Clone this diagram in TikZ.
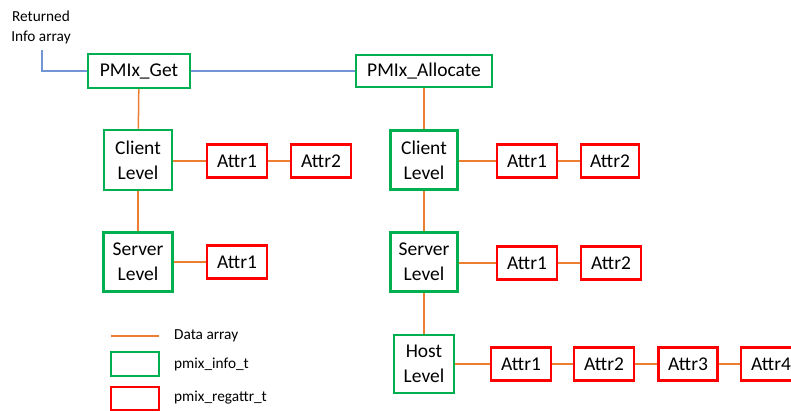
\documentclass[tikz,border=0pt]{standalone}
\usepackage{fontspec}
\setmainfont{Carlito}
\usepackage{tikz}
\usetikzlibrary{positioning}

\begin{document}
\begin{tikzpicture}[x=1pt,y=-1pt]
		\tikzstyle{info} = [draw={rgb,255:red,0;green,176;blue,80}, line width=2.5, inner sep=0, align=center, font=\fontsize{19.5}{25}\selectfont]
		\tikzstyle{regattr} = [draw=red, line width=2.5, inner sep=0, minimum width=60, minimum height=33, font=\fontsize{19.5}{25}\selectfont]
		\tikzstyle{data} = [draw={rgb,255:red,237;green,125;blue,49}, line width=1.5]
		\tikzstyle{ret} = [draw={rgb,255:red,114;green,150;blue,212}, line width=1.2]
		\tikzstyle{label} = [inner sep=0, align=left, font=\fontsize{15.3}{20}\selectfont]
		\useasboundingbox (0,0) rectangle (791,411);
		% top row
		\node [label, align=center] (v1) at (41,27) {Returned\\Info array};
		\node [info, minimum width=102, minimum height=34] (v2) at (139,71) {PMIx\_Get};
		\node [info, minimum width=136, minimum height=32] (v3) at (424,71) {PMIx\_Allocate};
		\coordinate (v4) at (42,50);
		\coordinate (v5) at (42,71);
		\draw [ret] (v4) -- (v5) -- (v2.west);
		\draw [ret] (v2) edge (v3);
		% left tree
		\node [info, minimum width=68, minimum height=60] (v6) at (138,160) {Client\\Level};
		\node [regattr] (v7) at (237,161) {Attr1};
		\node [regattr] (v8) at (321,161) {Attr2};
		\node [info, minimum width=69, minimum height=59] (v9) at (138,262) {Server\\Level};
		\node [regattr] (v10) at (237,262) {Attr1};
		\draw [data] (v2) edge (v6);
		\draw [data] (v6) edge (v9);
		\draw [data] (v6.east |- v7) edge (v7);
		\draw [data] (v7) edge (v8);
		\draw [data] (v9.east |- v10) edge (v10);
		% right tree
		\node [info, minimum width=67, minimum height=59] (v11) at (424,160) {Client\\Level};
		\node [regattr] (v12) at (527,161) {Attr1};
		\node [regattr, minimum width=58] (v13) at (610,161) {Attr2};
		\node [info, minimum width=67, minimum height=59] (v14) at (424,262) {Server\\Level};
		\node [regattr] (v15) at (527,263) {Attr1};
		\node [regattr] (v16) at (611,263) {Attr2};
		\node [info, minimum width=60, minimum height=58] (v17) at (424,364) {Host\\Level};
		\node [regattr] (v18) at (521,364) {Attr1};
		\node [regattr] (v19) at (604,364) {Attr2};
		\node [regattr, minimum width=59] (v20) at (688,364) {Attr3};
		\node [regattr] (v21) at (771,364) {Attr4};
		\draw [data] (v3) edge (v11);
		\draw [data] (v11) edge (v14);
		\draw [data] (v14) edge (v17);
		\draw [data] (v11.east |- v12) edge (v12);
		\draw [data] (v12) edge (v13);
		\draw [data] (v14.east |- v15) edge (v15);
		\draw [data] (v15) edge (v16);
		\draw [data] (v17) edge (v18);
		\draw [data] (v18) edge (v19);
		\draw [data] (v19) edge (v20);
		\draw [data] (v20) edge (v21);
		% legend
		\coordinate (v22) at (111,336);
		\coordinate (v23) at (159,336);
		\draw [data] (v22) edge (v23);
		\node [info, minimum width=48, minimum height=24] (v24) at (135,364) {};
		\node [regattr, minimum width=48, minimum height=23] (v25) at (135,398.5) {};
		\node [label, anchor=west] (v26) at (174,336) {Data array};
		\node [label, anchor=west] (v27) at (174,364) {pmix\_info\_t};
		\node [label, anchor=west] (v28) at (174,398) {pmix\_regattr\_t};
\end{tikzpicture}
\end{document}
